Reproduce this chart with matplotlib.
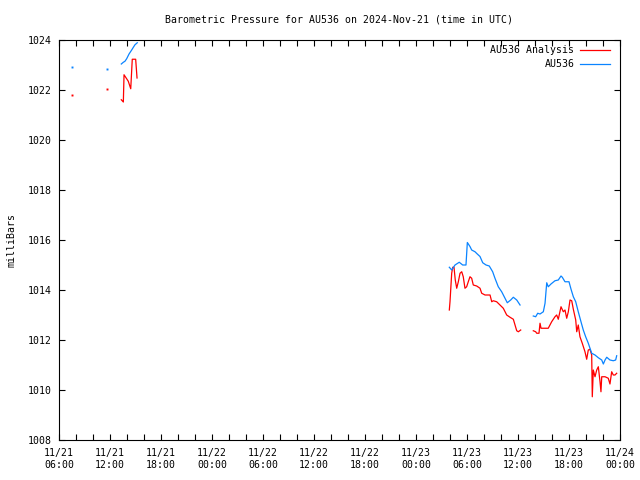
import numpy as np
import matplotlib
matplotlib.use("Agg")
import matplotlib.pyplot as plt
import matplotlib.dates as mdates
from datetime import datetime, timedelta

# Constants
RED = "#ff0000"
BLUE = "#0a84ff"
FS = 7.1
START = datetime(2024, 11, 21, 6, 0)
END = datetime(2024, 11, 24, 0, 0)

# Hours after 11/21 06:00 UTC, pressure in mb; NaN marks a data gap
analysis_hours = [1.56, np.nan, 5.68, np.nan,
                  7.33, 7.57, 7.65, 8.15, 8.44, 8.62, 9.02, 9.18, np.nan,
                  45.92, 46.0, 46.2, 46.32, 46.47, 46.62, 46.79, 46.98, 47.18, 47.38,
                  47.56, 47.76, 47.96, 48.15, 48.35, 48.55, 48.74, 49.14, 49.53, 49.73,
                  50.12, 50.71, 50.91, 51.09, 51.49, 51.88, 52.27, 52.67, 53.06, 53.45,
                  53.65, 53.85, 54.04, 54.32, np.nan,
                  55.8, 56.08, 56.2, 56.47, 56.59, 56.71, 57.56, 57.96, 58.35, 58.55,
                  58.74, 59.06, 59.33, 59.53, 59.73, 59.92, 60.12, 60.32, 60.51, 60.79,
                  60.91, 61.09, 61.29, 61.56, 61.88, 62.08, 62.27, 62.47, 62.67, 62.74,
                  62.86, 63.06, 63.26, 63.45, 63.65, 63.76, 63.85, 64.24, 64.62, 64.82,
                  65.02, 65.21, 65.41, 65.61]
analysis_mb = [1021.79, np.nan, 1022.03, np.nan,
               1021.61, 1021.52, 1022.61, 1022.35, 1022.05, 1023.23, 1023.23, 1022.48, np.nan,
               1013.2, 1013.53, 1014.67, 1014.91, 1014.91, 1014.4, 1014.07, 1014.33, 1014.67, 1014.73,
               1014.53, 1014.07, 1014.13, 1014.33, 1014.53, 1014.47, 1014.2, 1014.16, 1014.07, 1013.87,
               1013.8, 1013.8, 1013.53, 1013.57, 1013.53, 1013.4, 1013.27, 1013.0, 1012.91, 1012.83,
               1012.6, 1012.37, 1012.33, 1012.4, np.nan,
               1012.37, 1012.33, 1012.27, 1012.27, 1012.67, 1012.47, 1012.47, 1012.73, 1012.93, 1013.0,
               1012.83, 1013.33, 1013.13, 1013.2, 1012.87, 1013.13, 1013.6, 1013.57, 1013.23, 1012.8,
               1012.33, 1012.6, 1012.13, 1011.87, 1011.53, 1011.23, 1011.6, 1011.63, 1011.4, 1009.73,
               1010.8, 1010.53, 1010.8, 1010.93, 1010.33, 1009.93, 1010.53, 1010.53, 1010.47, 1010.24,
               1010.73, 1010.6, 1010.6, 1010.67]

obs_hours = [1.56, np.nan, 5.68, np.nan,
             7.33, 7.57, 7.76, 7.96, 8.24, 8.55, 8.75, 8.94, 9.21, np.nan,
             45.92, 46.2, 46.59, 47.09, 47.49, 47.88, 48.04, 48.35, 48.55, 48.94,
             49.21, 49.53, 49.85, 50.24, 50.62, 51.02, 51.29, 51.68, 52.08, 52.47,
             52.74, 53.14, 53.45, 53.85, 54.24, np.nan,
             55.8, 56.08, 56.32, 56.59, 56.98, 57.18, 57.38, 57.56, 57.88, 58.35,
             58.74, 59.06, 59.21, 59.53, 60.0, 60.24, 60.51, 60.79, 61.09, 61.41,
             61.68, 61.96, 62.27, 62.47, 62.67, 63.06, 63.45, 63.85, 64.04, 64.24,
             64.44, 64.82, 65.21, 65.49, 65.61]
obs_mb = [1022.91, np.nan, 1022.83, np.nan,
          1023.04, 1023.11, 1023.15, 1023.25, 1023.44, 1023.6, 1023.71, 1023.81, 1023.89, np.nan,
          1014.91, 1014.8, 1015.0, 1015.11, 1015.0, 1015.0, 1015.9, 1015.74, 1015.6, 1015.53,
          1015.44, 1015.34, 1015.09, 1015.0, 1014.96, 1014.73, 1014.47, 1014.13, 1013.93, 1013.67,
          1013.49, 1013.6, 1013.71, 1013.6, 1013.4, np.nan,
          1012.96, 1012.93, 1013.07, 1013.04, 1013.13, 1013.47, 1014.29, 1014.13, 1014.24, 1014.37,
          1014.4, 1014.56, 1014.51, 1014.33, 1014.33, 1014.03, 1013.73, 1013.53, 1013.13, 1012.73,
          1012.4, 1012.13, 1011.87, 1011.67, 1011.47, 1011.4, 1011.29, 1011.2, 1011.04, 1011.2,
          1011.31, 1011.2, 1011.17, 1011.2, 1011.37]

Y_TICKS = list(range(1008, 1025, 2))


def to_dates(hours):
    """Turn hour offsets into matplotlib date numbers (NaN kept as gap)."""
    out = []
    for h in hours:
        if np.isnan(h):
            out.append(np.nan)
        else:
            out.append(mdates.date2num(START + timedelta(hours=float(h))))
    return np.array(out)


def isolated(x, y):
    """Return points that have gaps on both sides (drawn as dots)."""
    x = np.asarray(x, float)
    y = np.asarray(y, float)
    keep = []
    for i in range(len(x)):
        if np.isnan(x[i]):
            continue
        prev_gap = i == 0 or np.isnan(x[i - 1])
        next_gap = i == len(x) - 1 or np.isnan(x[i + 1])
        if prev_gap and next_gap:
            keep.append(i)
    return x[keep], y[keep]


plt.rcParams['font.family'] = 'DejaVu Sans Mono'
fig = plt.figure(figsize=(6.4, 4.8), dpi=100)
ax = fig.add_axes([59 / 640, 40 / 480, 561 / 640, 400 / 480])

ax_x = to_dates(analysis_hours)
ob_x = to_dates(obs_hours)

ax.plot(ax_x, analysis_mb, color=RED, lw=0.9, label="AU536 Analysis")
ax.plot(ob_x, obs_mb, color=BLUE, lw=0.9, label="AU536")
for xs, ys, c in [(ax_x, analysis_mb, RED), (ob_x, obs_mb, BLUE)]:
    px, py = isolated(xs, ys)
    ax.plot(px, py, ls="none", marker="s", ms=1.4, mec="none", color=c)

ax.set_xlim(mdates.date2num(START), mdates.date2num(END))
ax.set_ylim(1008, 1024)
ax.set_yticks(Y_TICKS)
ax.set_yticklabels([str(t) for t in Y_TICKS])
ax.xaxis.set_major_locator(mdates.HourLocator(byhour=range(0, 24, 6)))
ax.xaxis.set_minor_locator(mdates.HourLocator(byhour=range(0, 24, 2)))
ax.xaxis.set_major_formatter(mdates.DateFormatter("%m/%d\n%H:%M"))
ax.tick_params(which="both", direction="in", top=True, right=True,
               labelsize=FS, length=4, width=0.8, pad=6)
ax.tick_params(axis="y", pad=5)
for s in ax.spines.values():
    s.set_linewidth(0.8)

ax.set_ylabel("milliBars", fontsize=FS, labelpad=8)
fig.text(339 / 640, 1 - 20 / 480, "Barometric Pressure for AU536 on 2024-Nov-21 (time in UTC)",
         ha="center", va="center", fontsize=FS)

leg = ax.legend(loc="upper right", bbox_to_anchor=(0.982, 0.9875), frameon=False,
                markerfirst=False, fontsize=FS, handlelength=3.0, handletextpad=0.6,
                borderaxespad=0, borderpad=0, labelspacing=0.45)
for t in leg.get_texts():
    t.set_ha("right")
leg._legend_box.align = "right"

fig.savefig("out.png", dpi=100)
